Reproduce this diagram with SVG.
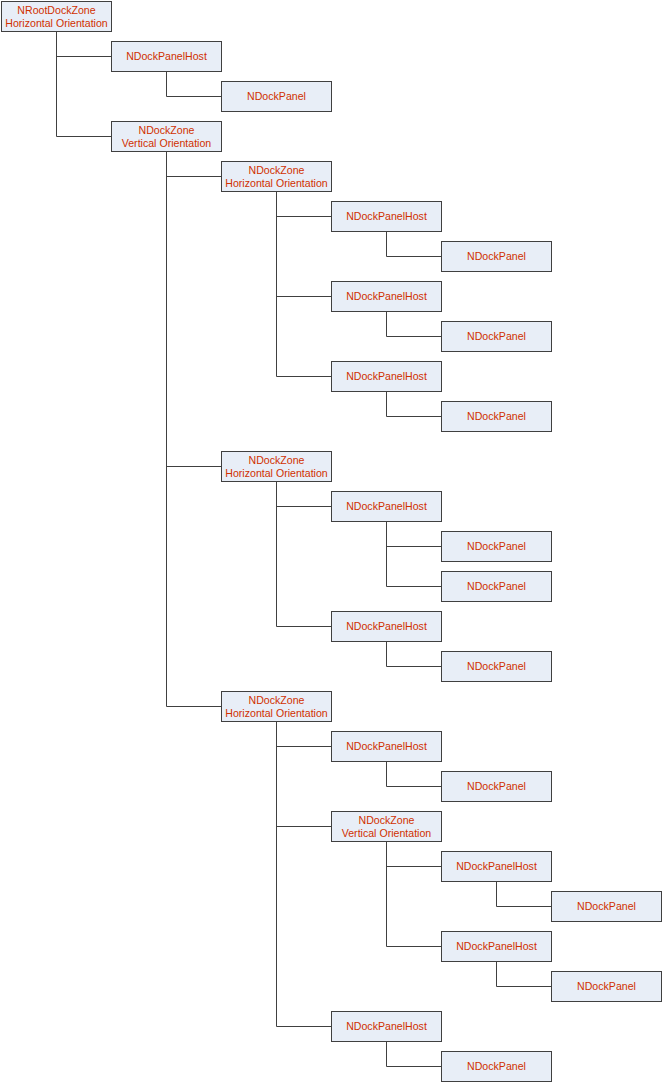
<svg xmlns="http://www.w3.org/2000/svg" width="664" height="1084" viewBox="0 0 664 1084">
<style>
.b{fill:#E8EEF7;stroke:#404040;stroke-width:1}
.t{font-family:"Liberation Sans",Arial,sans-serif;font-size:10.6px;fill:#D03000;text-anchor:middle}
.c{fill:none;stroke:#404040;stroke-width:1}
</style>
<rect width="664" height="1084" fill="#FFFFFF"/>
<g id="connectors">
<path class="c" d="M56.5,31.5V136.5M56.5,56.5H111.5M56.5,136.5H111.5"/>
<path class="c" d="M166.5,71.5V96.5H221.5"/>
<path class="c" d="M166.5,151.5V706.5H221.5M166.5,176.5H221.5M166.5,466.5H221.5"/>
<path class="c" d="M276.5,191.5V376.5H331.5M276.5,216.5H331.5M276.5,296.5H331.5"/>
<path class="c" d="M386.5,231.5V256.5H441.5"/>
<path class="c" d="M386.5,311.5V336.5H441.5"/>
<path class="c" d="M386.5,391.5V416.5H441.5"/>
<path class="c" d="M276.5,481.5V626.5H331.5M276.5,506.5H331.5"/>
<path class="c" d="M386.5,521.5V586.5H441.5M386.5,546.5H441.5"/>
<path class="c" d="M386.5,641.5V666.5H441.5"/>
<path class="c" d="M276.5,721.5V1026.5H331.5M276.5,746.5H331.5M276.5,826.5H331.5"/>
<path class="c" d="M386.5,761.5V786.5H441.5"/>
<path class="c" d="M386.5,841.5V946.5H441.5M386.5,866.5H441.5"/>
<path class="c" d="M496.5,881.5V906.5H551.5"/>
<path class="c" d="M496.5,961.5V986.5H551.5"/>
<path class="c" d="M386.5,1041.5V1066.5H441.5"/>
</g>
<g id="n1"><rect class="b" x="1.5" y="1.5" width="110" height="30"/><text class="t" x="56.5" y="14">NRootDockZone</text><text class="t" x="56.5" y="27">Horizontal Orientation</text></g>
<g id="n2"><rect class="b" x="111.5" y="41.5" width="110" height="30"/><text class="t" x="166.5" y="60">NDockPanelHost</text></g>
<g id="n3"><rect class="b" x="221.5" y="81.5" width="110" height="30"/><text class="t" x="276.5" y="100">NDockPanel</text></g>
<g id="n4"><rect class="b" x="111.5" y="121.5" width="110" height="30"/><text class="t" x="166.5" y="134">NDockZone</text><text class="t" x="166.5" y="147">Vertical Orientation</text></g>
<g id="n5"><rect class="b" x="221.5" y="161.5" width="110" height="30"/><text class="t" x="276.5" y="174">NDockZone</text><text class="t" x="276.5" y="187">Horizontal Orientation</text></g>
<g id="n6"><rect class="b" x="331.5" y="201.5" width="110" height="30"/><text class="t" x="386.5" y="220">NDockPanelHost</text></g>
<g id="n7"><rect class="b" x="441.5" y="241.5" width="110" height="30"/><text class="t" x="496.5" y="260">NDockPanel</text></g>
<g id="n8"><rect class="b" x="331.5" y="281.5" width="110" height="30"/><text class="t" x="386.5" y="300">NDockPanelHost</text></g>
<g id="n9"><rect class="b" x="441.5" y="321.5" width="110" height="30"/><text class="t" x="496.5" y="340">NDockPanel</text></g>
<g id="n10"><rect class="b" x="331.5" y="361.5" width="110" height="30"/><text class="t" x="386.5" y="380">NDockPanelHost</text></g>
<g id="n11"><rect class="b" x="441.5" y="401.5" width="110" height="30"/><text class="t" x="496.5" y="420">NDockPanel</text></g>
<g id="n12"><rect class="b" x="221.5" y="451.5" width="110" height="30"/><text class="t" x="276.5" y="464">NDockZone</text><text class="t" x="276.5" y="477">Horizontal Orientation</text></g>
<g id="n13"><rect class="b" x="331.5" y="491.5" width="110" height="30"/><text class="t" x="386.5" y="510">NDockPanelHost</text></g>
<g id="n14"><rect class="b" x="441.5" y="531.5" width="110" height="30"/><text class="t" x="496.5" y="550">NDockPanel</text></g>
<g id="n15"><rect class="b" x="441.5" y="571.5" width="110" height="30"/><text class="t" x="496.5" y="590">NDockPanel</text></g>
<g id="n16"><rect class="b" x="331.5" y="611.5" width="110" height="30"/><text class="t" x="386.5" y="630">NDockPanelHost</text></g>
<g id="n17"><rect class="b" x="441.5" y="651.5" width="110" height="30"/><text class="t" x="496.5" y="670">NDockPanel</text></g>
<g id="n18"><rect class="b" x="221.5" y="691.5" width="110" height="30"/><text class="t" x="276.5" y="704">NDockZone</text><text class="t" x="276.5" y="717">Horizontal Orientation</text></g>
<g id="n19"><rect class="b" x="331.5" y="731.5" width="110" height="30"/><text class="t" x="386.5" y="750">NDockPanelHost</text></g>
<g id="n20"><rect class="b" x="441.5" y="771.5" width="110" height="30"/><text class="t" x="496.5" y="790">NDockPanel</text></g>
<g id="n21"><rect class="b" x="331.5" y="811.5" width="110" height="30"/><text class="t" x="386.5" y="824">NDockZone</text><text class="t" x="386.5" y="837">Vertical Orientation</text></g>
<g id="n22"><rect class="b" x="441.5" y="851.5" width="110" height="30"/><text class="t" x="496.5" y="870">NDockPanelHost</text></g>
<g id="n23"><rect class="b" x="551.5" y="891.5" width="110" height="30"/><text class="t" x="606.5" y="910">NDockPanel</text></g>
<g id="n24"><rect class="b" x="441.5" y="931.5" width="110" height="30"/><text class="t" x="496.5" y="950">NDockPanelHost</text></g>
<g id="n25"><rect class="b" x="551.5" y="971.5" width="110" height="30"/><text class="t" x="606.5" y="990">NDockPanel</text></g>
<g id="n26"><rect class="b" x="331.5" y="1011.5" width="110" height="30"/><text class="t" x="386.5" y="1030">NDockPanelHost</text></g>
<g id="n27"><rect class="b" x="441.5" y="1051.5" width="110" height="30"/><text class="t" x="496.5" y="1070">NDockPanel</text></g>
</svg>
